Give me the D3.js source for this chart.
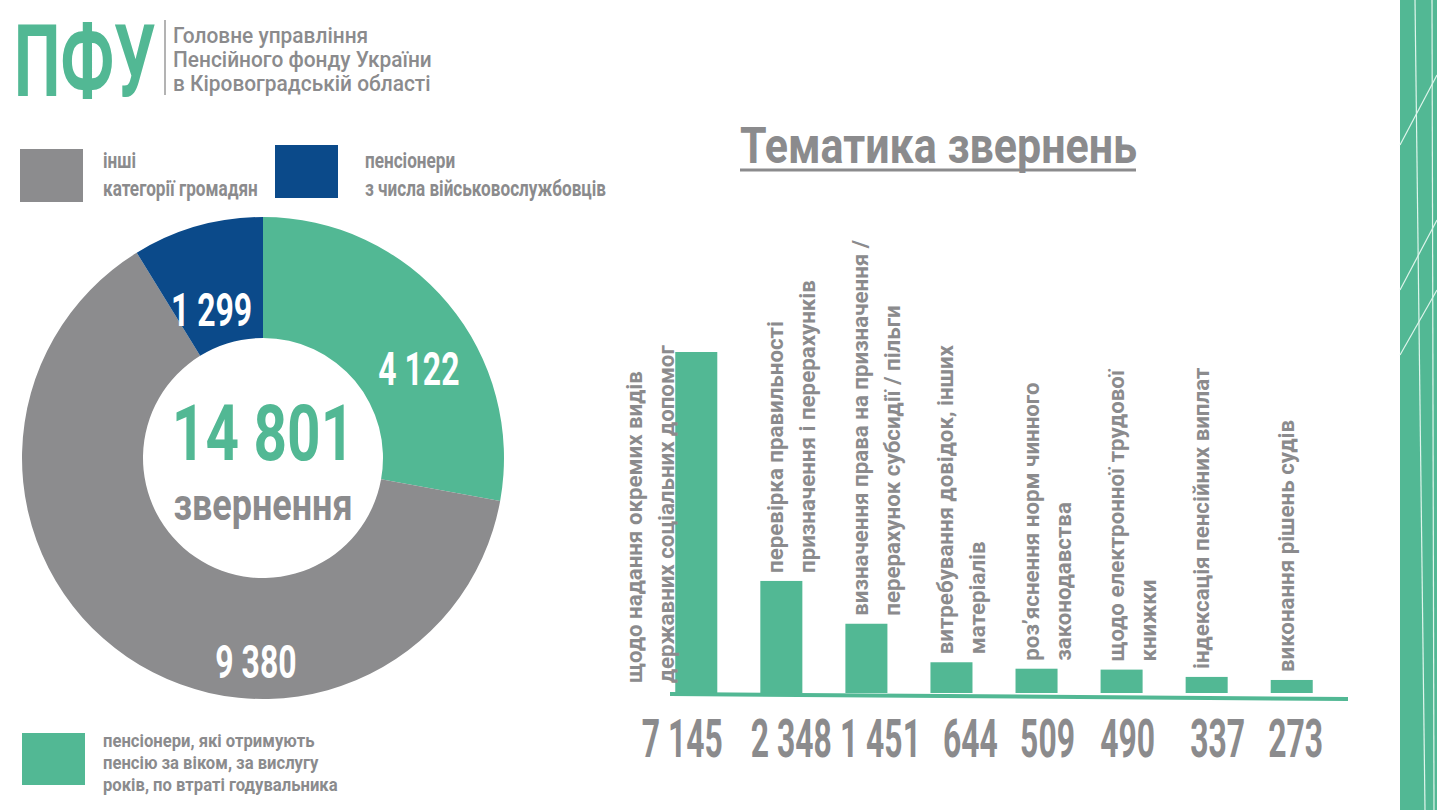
<!doctype html>
<html>
<head>
<meta charset="utf-8">
<script src="https://d3js.org/d3.v7.min.js"></script>
<style>
  body { margin: 0; background: #fff; }
  svg text { font-family: Roboto, "DejaVu Sans Condensed", sans-serif; font-weight: 700; }
</style>
</head>
<body>
<div id="chart"></div>
<script>
// donut data
var donutCats = ["пенсіонери за віком", "інші категорії громадян", "пенсіонери з числа військовослужбовців"];
var donutValues = [4122, 9380, 1299];
var donutColors = ["#52b894", "#8c8c8e", "#0b4a8a"];
var centerWord = "звернення";

// legend texts
var legendTop = [
  { lines: ["інші", "категорії громадян"], color: "#8c8c8e" },
  { lines: ["пенсіонери", "з числа військовослужбовців"], color: "#0b4a8a" }
];
var legendBottom = { lines: ["пенсіонери, які отримують", "пенсію за віком, за вислугу", "років, по втраті годувальника"], color: "#52b894" };

// bar chart data
var topics = [
  ["щодо надання окремих видів", "державних соціальних допомог"],
  ["перевірка правильності", "призначення і перерахунків"],
  ["визначення права на призначення /", "перерахунок субсидії / пільги"],
  ["витребування довідок, інших", "матеріалів"],
  ["роз’яснення норм чинного", "законодавства"],
  ["щодо електронної трудової", "книжки"],
  ["індексація пенсійних виплат"],
  ["виконання рішень судів"]
];
var topicValues = [7145, 2348, 1451, 644, 509, 490, 337, 273];

var logoLines = ["Головне управління", "Пенсійного фонду України", "в Кіровоградській області"];
var title = "Тематика звернень";

// layout: horizontal nudge of the value numbers under the bars (px)
var valueNudge = [-14, 10, 14, 19, 11, 6, 11, 4];

var green = "#52b894", grey = "#8b8b8d";
var fmt = function(v) { return d3.format(",")(v).replace(/,/g, " "); };

var width = 1440, height = 810;
var svg = d3.select("#chart").append("svg")
  .attr("width", width).attr("height", height);

// text helper, sx squeezes glyphs to look like a condensed face
function label(g, x, y, str, size, fill, anchor, sx, weight) {
  return g.append("text")
    .attr("transform", "translate(" + x + "," + y + ") scale(" + (sx || 1) + ",1)")
    .attr("font-size", size)
    .attr("fill", fill)
    .attr("text-anchor", anchor || "start")
    .style("font-weight", weight || 700)
    .text(str);
}

// ---- logo
var logo = svg.append("g");
label(logo, 14, 96, "ПФУ", 101, green, "start", 0.65);
logo.append("line").attr("x1", 165).attr("x2", 165).attr("y1", 20).attr("y2", 95)
  .attr("stroke", "#9a9a9a").attr("stroke-width", 1.5);
logoLines.forEach(function(t, i) {
  label(logo, 173, 43 + i * 24, t, 22, grey, "start", 0.95, 500);
});

// ---- right stripe decoration
var deco = svg.append("g");
deco.append("rect").attr("x", 1400).attr("y", 0).attr("width", 37).attr("height", height).attr("fill", green);
[[1415, 0, 1425, 810], [1432, 0, 1434, 810], [1437, 75, 1400, 145], [1437, 220, 1400, 290], [1437, 290, 1400, 355]]
  .forEach(function(l) {
    deco.append("line").attr("x1", l[0]).attr("y1", l[1]).attr("x2", l[2]).attr("y2", l[3])
      .attr("stroke", "#dff5ec").attr("stroke-width", 1.2);
  });

// ---- legend
legendTop.forEach(function(d, i) {
  var gx = i === 0 ? 20 : 275, gy = i === 0 ? 149 : 145;
  svg.append("rect").attr("x", gx).attr("y", gy).attr("width", 63).attr("height", 53).attr("fill", d.color);
  d.lines.forEach(function(t, j) {
    label(svg, gx + (i === 0 ? 83 : 90), 168 + j * 28, t, 22, grey, "start", 0.78);
  });
});
svg.append("rect").attr("x", 22).attr("y", 733).attr("width", 63).attr("height", 52).attr("fill", legendBottom.color);
legendBottom.lines.forEach(function(t, j) {
  label(svg, 103, 747 + j * 22, t, 18.5, grey, "start", 0.9);
});

// ---- donut
var cx = 263, cy = 458, rOuter = 241, rInner = 120;
var pie = d3.pie().sort(null).value(function(d) { return d; });
var arc = d3.arc().innerRadius(rInner).outerRadius(rOuter);
var donut = svg.append("g").attr("transform", "translate(" + cx + "," + cy + ")");
var arcs = pie(donutValues);
donut.selectAll("path").data(arcs).enter().append("path")
  .attr("d", arc)
  .attr("fill", function(d, i) { return donutColors[i]; });

// label angle (deg) and radius for each slice value
var labelPos = [[60, 180], [182, 203], [341, 158]];
arcs.forEach(function(d, i) {
  var p = d3.pointRadial(labelPos[i][0] * Math.PI / 180, labelPos[i][1]);
  label(donut, p[0], p[1] + 17, fmt(d.data), 47, "#fff", "middle", 0.68);
});
label(donut, 0, 2, fmt(d3.sum(donutValues)), 77, green, "middle", 0.76);
label(donut, 0, 62, centerWord, 45, grey, "middle", 0.8);

// ---- title
label(svg, 740, 163, title, 50, grey, "start", 0.86);
svg.append("line").attr("x1", 740).attr("x2", 1136).attr("y1", 170).attr("y2", 170)
  .attr("stroke", grey).attr("stroke-width", 3);

// ---- bars
var x = d3.scaleBand().domain(d3.range(topics.length)).range([654, 1334]).paddingInner(0.506).paddingOuter(0.25);
var y = d3.scaleLinear().domain([0, 7145]).range([693, 352]);

var bars = svg.append("g");
bars.selectAll("rect").data(topicValues).enter().append("rect")
  .attr("x", function(d, i) { return x(i); })
  .attr("y", function(d) { return y(d); })
  .attr("width", x.bandwidth())
  .attr("height", function(d) { return y(0) - y(d); })
  .attr("fill", green);

svg.append("line").attr("x1", 670).attr("y1", 694).attr("x2", 1348).attr("y2", 699)
  .attr("stroke", green).attr("stroke-width", 4);

topics.forEach(function(lines, i) {
  var v = topicValues[i];
  var tall = y(0) - y(v) > 200;
  var bx = tall ? x(i) - 33 : x(i) + x.bandwidth() / 2 + 2;
  var by = tall ? y(0) - 10 : y(v) - 8;
  lines.forEach(function(t, j) {
    bars.append("text")
      .attr("transform", "translate(" + (bx + j * 32) + "," + by + ") rotate(-90) scale(0.97,1)")
      .attr("font-size", 23)
      .attr("fill", grey)
      .text(t);
  });
  label(svg, x(i) + x.bandwidth() / 2 + valueNudge[i], 757, fmt(v), 54, grey, "middle", 0.59);
});
</script>
</body>
</html>
